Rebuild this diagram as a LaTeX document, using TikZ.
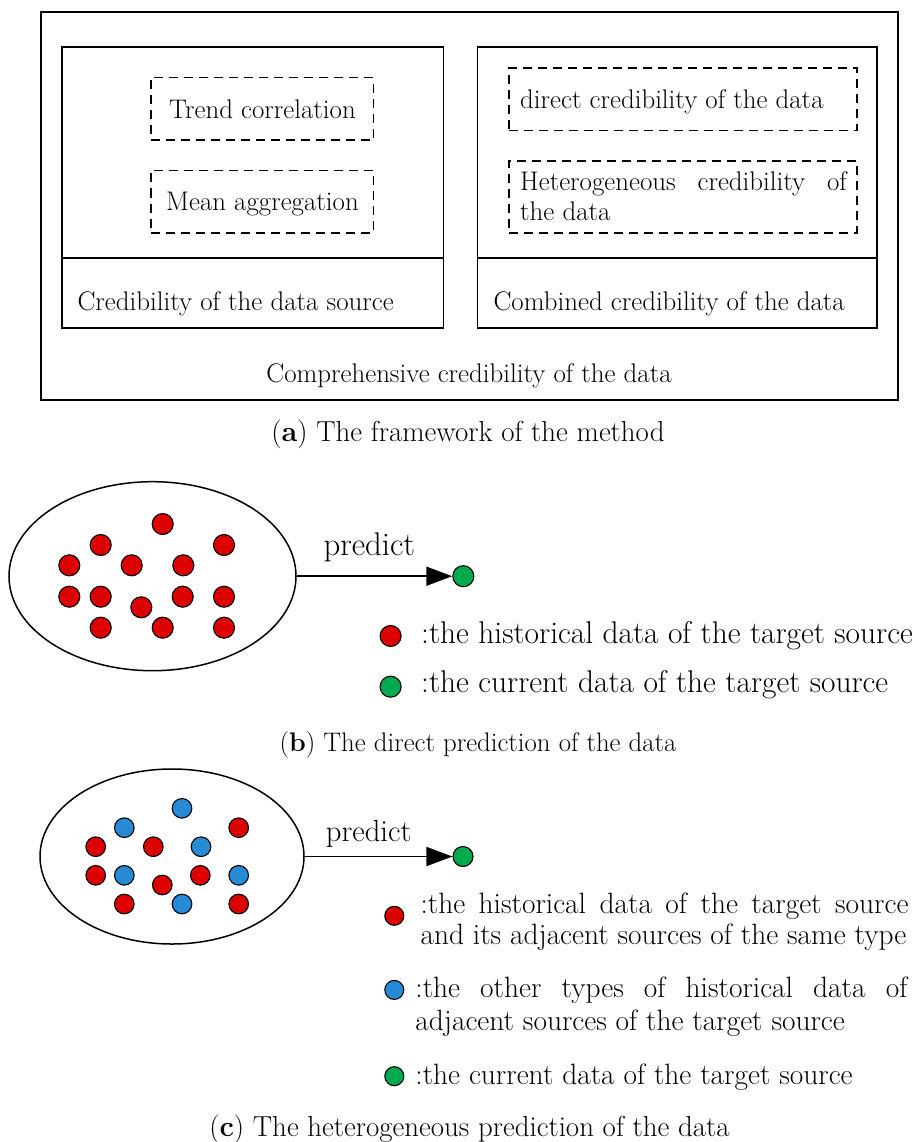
\documentclass[tikz,border=0pt]{standalone}
\usetikzlibrary{shapes.geometric,arrows.meta}
\definecolor{dotred}{RGB}{221,0,0}
\definecolor{dotblue}{RGB}{39,138,213}
\definecolor{dotgreen}{RGB}{0,170,78}
\begin{document}
\begin{tikzpicture}[x=1pt,y=-1pt,
  box/.style={draw,line width=1.6pt,inner sep=0pt},
  dbox/.style={box,dash pattern=on 9pt off 6pt},
  ptxt/.style={inner sep=0pt,font=\fontsize{26.9}{32}\selectfont},
  btxt/.style={inner sep=0pt,font=\fontsize{31.4}{37}\selectfont},
  ctxt/.style={inner sep=0pt,font=\fontsize{29.4}{35}\selectfont},
  captxt/.style={inner sep=0pt,anchor=base,font=\fontsize{28.9}{34}\selectfont},
  cloud/.style={ellipse,draw,line width=1.5pt,inner sep=0pt},
  dot/.style={circle,draw,line width=1.1pt,inner sep=0pt,minimum size=#1},
  dot/.default=21pt,
  hist/.style={dot=#1,fill=dotred},
  hist/.default=21pt,
  other/.style={dot=#1,fill=dotblue},
  other/.default=19.6pt,
  cur/.style={dot=#1,fill=dotgreen},
  cur/.default=21pt,
  pred/.style={line width=1.7pt,-{Triangle[length=26pt,width=19pt]}}
]
\useasboundingbox (0,0) rectangle (913,1142);

% ---------- (a) framework ----------
\node[box,minimum width=857pt,minimum height=388.3pt] (outer) at (469.5,205.9) {};
\node[box,minimum width=381.6pt,minimum height=210.4pt] (srcTop) at (252.5,152.5) {};
\node[box,minimum width=381.6pt,minimum height=70pt] (srcBot) at (252.5,292.7) {};
\node[box,minimum width=399.4pt,minimum height=210.4pt] (comTop) at (677,152.5) {};
\node[box,minimum width=399.4pt,minimum height=70pt] (comBot) at (677,292.7) {};

\node[dbox,minimum width=222.6pt,minimum height=62.3pt] (trend) at (262,108.85) {};
\node[dbox,minimum width=222.6pt,minimum height=62pt] (mean) at (262,201.7) {};
\node[dbox,minimum width=347.7pt,minimum height=62.4pt] (direct) at (682.85,99.5) {};
\node[dbox,minimum width=347.7pt,minimum height=71.7pt] (hetero) at (682.85,196.85) {};

\node[ptxt,anchor=base] (trendT) at (262.5,118.3) {Trend correlation};
\node[ptxt,anchor=base] (meanT) at (262.5,210) {Mean aggregation};
\node[ptxt,anchor=base west] (directT) at (520,108.3) {direct credibility of the data};
\node[ptxt,anchor=base west] (heteroT1) at (520,190) {\makebox[326.7pt][s]{Heterogeneous credibility of}};
\node[ptxt,anchor=base west] (heteroT2) at (520,220) {the data};
\node[ptxt,anchor=base west] (srcT) at (77.3,310) {Credibility of the data source};
\node[ptxt,anchor=base west] (comT) at (493.3,310) {Combined credibility of the data};
\node[ptxt,anchor=base] (outerT) at (469,382.7) {Comprehensive credibility of the data};

\node[captxt] (capA) at (468,441.7) {(\textbf{a}) The framework of the method};

% ---------- (b) direct prediction ----------
\node[cloud,minimum width=287pt,minimum height=189pt] (cloudB) at (152.5,576.2) {};
\foreach \x/\y [count=\i] in {162.7/524,100.7/545,224/545,69.3/565.3,131.7/565.3,
    183.3/565.3,69.3/596.7,100.7/596.7,141.3/607.3,182.7/596.7,224/596.7,
    100.7/627.7,162.7/627.7,224/627.7}
  \node[hist] (b\i) at (\x,\y) {};
\node[cur] (curB) at (463.3,576.2) {};
\draw[pred] (cloudB) -- (curB);
\node[btxt,anchor=base west,font=\fontsize{32.8}{38}\selectfont] (predB) at (323.3,555) {predict};

\node[hist] (legB1) at (390.6,636) {};
\node[btxt,anchor=base west] (legB1T) at (421,643.3) {:the historical data of the target source};
\node[cur] (legB2) at (390.6,686.7) {};
\node[btxt,anchor=base west] (legB2T) at (421,692.7) {:the current data of the target source};

\node[captxt,font=\fontsize{26.8}{32}\selectfont] (capB) at (478,751) {(\textbf{b}) The direct prediction of the data};

% ---------- (c) heterogeneous prediction ----------
\node[cloud,minimum width=264pt,minimum height=175pt] (cloudC) at (172,856.5) {};
\foreach \x/\y [count=\i] in {238.7/827.7,95.7/846.7,153.3/846.7,95.7/875.3,
    162.3/885,200.3/875.3,124.3/904,238.7/904}
  \node[hist=19.6pt] (cr\i) at (\x,\y) {};
\foreach \x/\y [count=\i] in {182/808.3,124.3/827.7,201/846.7,124.3/875.3,
    238.7/875.3,182/904}
  \node[other] (cb\i) at (\x,\y) {};
\node[cur=20pt] (curC) at (463,856.5) {};
\draw[pred] (cloudC) -- (curC);
\node[ctxt,anchor=base west,font=\fontsize{30.6}{36}\selectfont] (predC) at (325.7,841.7) {predict};

\node[hist=19pt] (legC1) at (394.3,915.8) {};
\node[ctxt,anchor=base west] (legC1T) at (420.3,913.4) {\makebox[488pt][s]{:the historical data of the target source}};
\node[ctxt,anchor=base west] (legC1U) at (420.3,944.8) {and its adjacent sources of the same type};
\node[other=19pt] (legC2) at (394.3,989.9) {};
\node[ctxt,anchor=base west] (legC2T) at (415.2,997) {\makebox[492pt][s]{:the other types of historical data of}};
\node[ctxt,anchor=base west] (legC2U) at (415.2,1030) {adjacent sources of the target source};
\node[cur=19pt] (legC3) at (394.3,1076.2) {};
\node[ctxt,anchor=base west] (legC3T) at (415.2,1084.8) {:the current data of the target source};

\node[captxt] (capC) at (469.5,1136) {(\textbf{c}) The heterogeneous prediction of the data};
\end{tikzpicture}
\end{document}
